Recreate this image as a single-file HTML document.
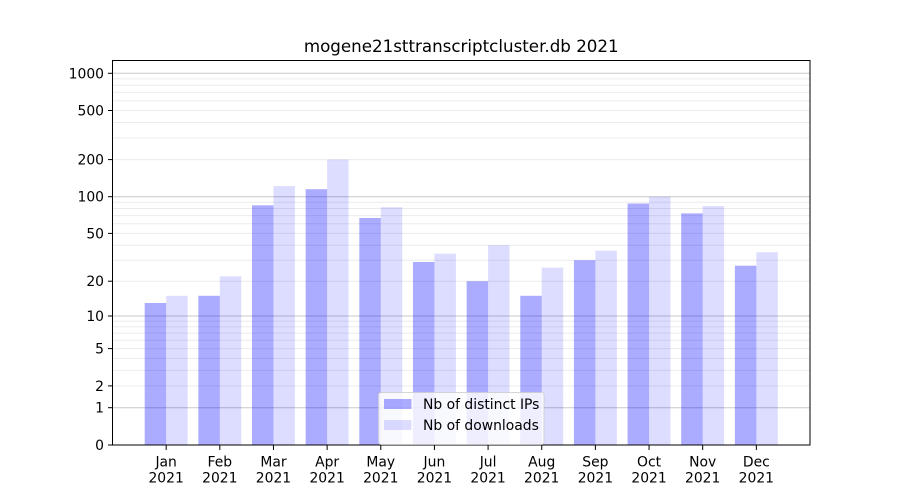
<!DOCTYPE html>
<html><head><meta charset="utf-8"><style>
html,body{margin:0;padding:0;background:#fff;}
svg{display:block;}
text{font-family:"DejaVu Sans","Liberation Sans",sans-serif;fill:#000;}
</style></head><body>
<svg width="900" height="500" viewBox="0 0 900 500" xmlns="http://www.w3.org/2000/svg">
<rect width="900" height="500" fill="#fff"/>
<!-- minor grid -->
<g stroke="#ebebeb" stroke-width="1">
<line x1="112.5" x2="810" y1="385.9" y2="385.9"/>
<line x1="112.5" x2="810" y1="370.4" y2="370.4"/>
<line x1="112.5" x2="810" y1="358.4" y2="358.4"/>
<line x1="112.5" x2="810" y1="348.6" y2="348.6"/>
<line x1="112.5" x2="810" y1="340.3" y2="340.3"/>
<line x1="112.5" x2="810" y1="333.1" y2="333.1"/>
<line x1="112.5" x2="810" y1="326.8" y2="326.8"/>
<line x1="112.5" x2="810" y1="321.1" y2="321.1"/>
<line x1="112.5" x2="810" y1="281.2" y2="281.2"/>
<line x1="112.5" x2="810" y1="260.2" y2="260.2"/>
<line x1="112.5" x2="810" y1="245.2" y2="245.2"/>
<line x1="112.5" x2="810" y1="233.4" y2="233.4"/>
<line x1="112.5" x2="810" y1="223.8" y2="223.8"/>
<line x1="112.5" x2="810" y1="215.6" y2="215.6"/>
<line x1="112.5" x2="810" y1="208.5" y2="208.5"/>
<line x1="112.5" x2="810" y1="202.3" y2="202.3"/>
<line x1="112.5" x2="810" y1="159.6" y2="159.6"/>
<line x1="112.5" x2="810" y1="137.9" y2="137.9"/>
<line x1="112.5" x2="810" y1="122.5" y2="122.5"/>
<line x1="112.5" x2="810" y1="110.5" y2="110.5"/>
<line x1="112.5" x2="810" y1="100.7" y2="100.7"/>
<line x1="112.5" x2="810" y1="92.4" y2="92.4"/>
<line x1="112.5" x2="810" y1="85.2" y2="85.2"/>
<line x1="112.5" x2="810" y1="78.9" y2="78.9"/>
</g>
<!-- major grid -->
<g stroke="#c8c8c8" stroke-width="1">
<line x1="112.5" x2="810" y1="407.7" y2="407.7"/>
<line x1="112.5" x2="810" y1="316" y2="316"/>
<line x1="112.5" x2="810" y1="196.7" y2="196.7"/>
<line x1="112.5" x2="810" y1="73.3" y2="73.3"/>
</g>
<!-- bars IPs -->
<g fill="#0000ff" fill-opacity="0.33">
<rect x="144.69" y="303.0" width="21.46" height="142.0"/>
<rect x="198.35" y="295.8" width="21.46" height="149.2"/>
<rect x="252.00" y="205.3" width="21.46" height="239.7"/>
<rect x="305.66" y="189.2" width="21.46" height="255.8"/>
<rect x="359.31" y="218.0" width="21.46" height="227.0"/>
<rect x="412.96" y="262.0" width="21.46" height="183.0"/>
<rect x="466.62" y="281.2" width="21.46" height="163.8"/>
<rect x="520.27" y="295.8" width="21.46" height="149.2"/>
<rect x="573.92" y="260.2" width="21.46" height="184.8"/>
<rect x="627.58" y="203.5" width="21.46" height="241.5"/>
<rect x="681.23" y="213.4" width="21.46" height="231.6"/>
<rect x="734.89" y="265.7" width="21.46" height="179.3"/>
</g>
<!-- bars downloads -->
<g fill="#0000ff" fill-opacity="0.135">
<rect x="166.15" y="295.8" width="21.46" height="149.2"/>
<rect x="219.81" y="276.3" width="21.46" height="168.7"/>
<rect x="273.46" y="186.1" width="21.46" height="258.9"/>
<rect x="327.12" y="159.6" width="21.46" height="285.4"/>
<rect x="380.77" y="207.2" width="21.46" height="237.8"/>
<rect x="434.42" y="253.7" width="21.46" height="191.3"/>
<rect x="488.08" y="245.2" width="21.46" height="199.8"/>
<rect x="541.73" y="267.6" width="21.46" height="177.4"/>
<rect x="595.38" y="250.7" width="21.46" height="194.3"/>
<rect x="649.04" y="196.7" width="21.46" height="248.3"/>
<rect x="702.69" y="206.0" width="21.46" height="239.0"/>
<rect x="756.35" y="252.2" width="21.46" height="192.8"/>
</g>
<!-- axes frame -->
<rect x="112.5" y="60.5" width="697.5" height="384.5" fill="none" stroke="#000" stroke-width="1"/>
<!-- y ticks -->
<g stroke="#000" stroke-width="1">
<line x1="108" x2="112.5" y1="445" y2="445"/>
<line x1="108" x2="112.5" y1="407.7" y2="407.7"/>
<line x1="108" x2="112.5" y1="385.9" y2="385.9"/>
<line x1="108" x2="112.5" y1="348.6" y2="348.6"/>
<line x1="108" x2="112.5" y1="316" y2="316"/>
<line x1="108" x2="112.5" y1="281.2" y2="281.2"/>
<line x1="108" x2="112.5" y1="233.4" y2="233.4"/>
<line x1="108" x2="112.5" y1="196.7" y2="196.7"/>
<line x1="108" x2="112.5" y1="159.6" y2="159.6"/>
<line x1="108" x2="112.5" y1="110.5" y2="110.5"/>
<line x1="108" x2="112.5" y1="73.3" y2="73.3"/>
</g>
<g font-size="13.9" text-anchor="end">
<text x="104" y="450">0</text>
<text x="104" y="412.7">1</text>
<text x="104" y="390.9">2</text>
<text x="104" y="353.6">5</text>
<text x="104" y="321">10</text>
<text x="104" y="286.2">20</text>
<text x="104" y="238.4">50</text>
<text x="104" y="201.7">100</text>
<text x="104" y="164.6">200</text>
<text x="104" y="115.5">500</text>
<text x="104" y="78.3">1000</text>
</g>
<!-- x ticks -->
<g stroke="#000" stroke-width="1">
<line x1="166.15" x2="166.15" y1="445" y2="450"/>
<line x1="219.81" x2="219.81" y1="445" y2="450"/>
<line x1="273.46" x2="273.46" y1="445" y2="450"/>
<line x1="327.12" x2="327.12" y1="445" y2="450"/>
<line x1="380.77" x2="380.77" y1="445" y2="450"/>
<line x1="434.42" x2="434.42" y1="445" y2="450"/>
<line x1="488.08" x2="488.08" y1="445" y2="450"/>
<line x1="541.73" x2="541.73" y1="445" y2="450"/>
<line x1="595.38" x2="595.38" y1="445" y2="450"/>
<line x1="649.04" x2="649.04" y1="445" y2="450"/>
<line x1="702.69" x2="702.69" y1="445" y2="450"/>
<line x1="756.35" x2="756.35" y1="445" y2="450"/>
</g>
<g font-size="13.9" text-anchor="middle">
<text x="166.15" y="466.5">Jan</text><text x="166.15" y="482.5">2021</text>
<text x="219.81" y="466.5">Feb</text><text x="219.81" y="482.5">2021</text>
<text x="273.46" y="466.5">Mar</text><text x="273.46" y="482.5">2021</text>
<text x="327.12" y="466.5">Apr</text><text x="327.12" y="482.5">2021</text>
<text x="380.77" y="466.5">May</text><text x="380.77" y="482.5">2021</text>
<text x="434.42" y="466.5">Jun</text><text x="434.42" y="482.5">2021</text>
<text x="488.08" y="466.5">Jul</text><text x="488.08" y="482.5">2021</text>
<text x="541.73" y="466.5">Aug</text><text x="541.73" y="482.5">2021</text>
<text x="595.38" y="466.5">Sep</text><text x="595.38" y="482.5">2021</text>
<text x="649.04" y="466.5">Oct</text><text x="649.04" y="482.5">2021</text>
<text x="702.69" y="466.5">Nov</text><text x="702.69" y="482.5">2021</text>
<text x="756.35" y="466.5">Dec</text><text x="756.35" y="482.5">2021</text>
</g>
<!-- title -->
<text x="461.25" y="52" font-size="16.7" text-anchor="middle">mogene21sttranscriptcluster.db 2021</text>
<!-- legend -->
<rect x="378.5" y="392.5" width="165.5" height="52" rx="2.5" fill="#fff" fill-opacity="0.8" stroke="#cccccc" stroke-opacity="0.8" stroke-width="1"/>
<rect x="384" y="399" width="27.5" height="10" fill="#0000ff" fill-opacity="0.33"/>
<rect x="384" y="420" width="27.5" height="10" fill="#0000ff" fill-opacity="0.135"/>
<text x="423" y="409" font-size="13.9">Nb of distinct IPs</text>
<text x="423" y="430" font-size="13.9">Nb of downloads</text>
</svg>
</body></html>
